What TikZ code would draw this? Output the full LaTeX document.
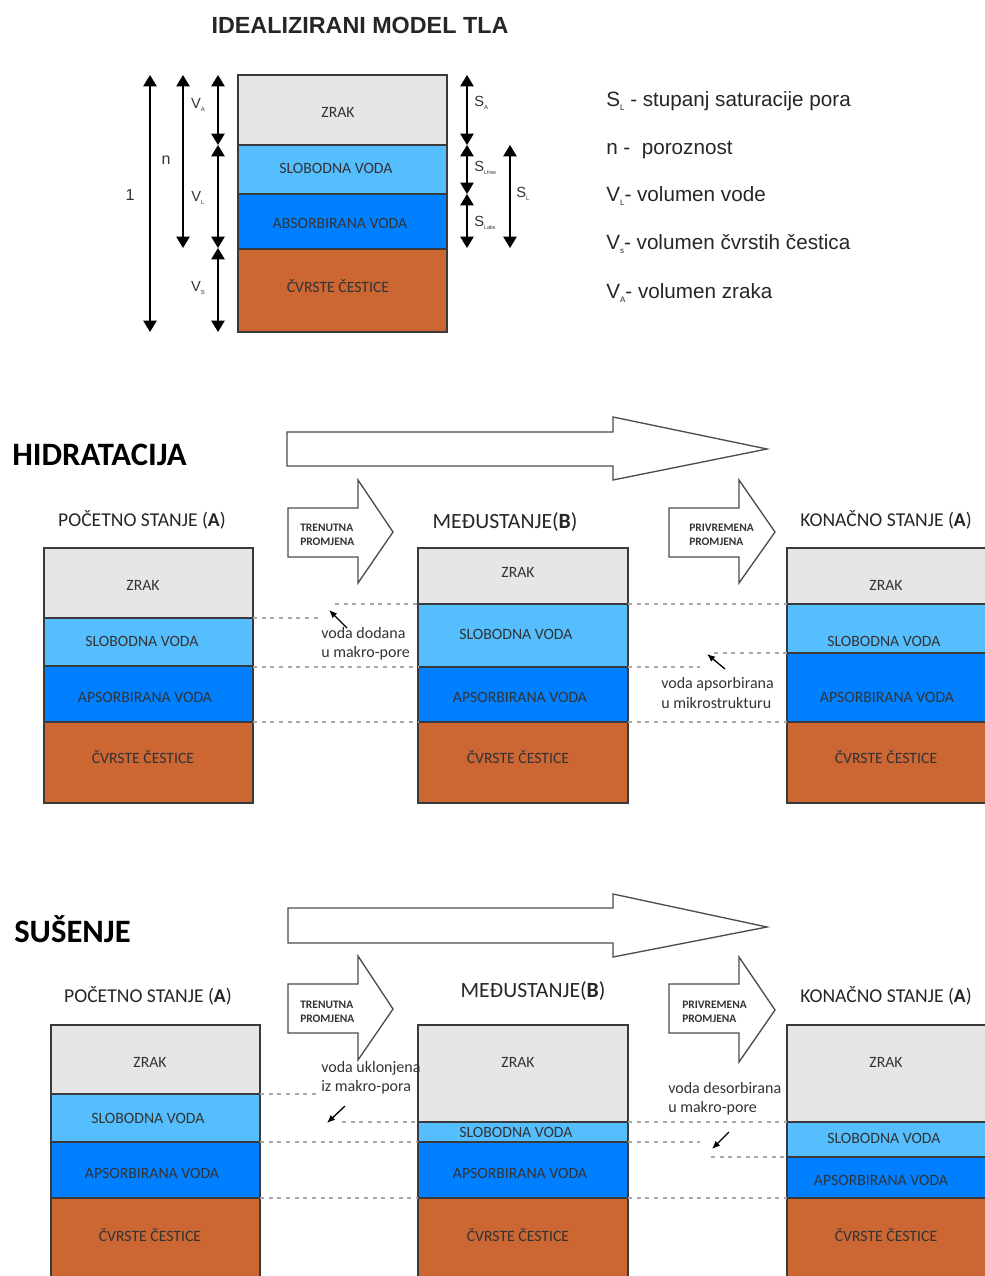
\documentclass[tikz,border=0pt]{standalone}
\usepackage{fontspec}
\setmainfont{Carlito}
\newfontfamily\arialf{Liberation Sans}
\usetikzlibrary{arrows.meta}
\definecolor{zrak}{HTML}{E6E6E6}
\definecolor{slob}{HTML}{55BEFF}
\definecolor{aps}{HTML}{0080FF}
\definecolor{cvr}{HTML}{CC6633}
\definecolor{edgec}{HTML}{3A3A3A}
\definecolor{dashc}{HTML}{A8A8A8}
\newcommand\soilbox[7]{%
  \draw[layer,fill=zrak] (#1,#3) rectangle (#2,#4);
  \draw[layer,fill=slob] (#1,#4) rectangle (#2,#5);
  \draw[layer,fill=aps] (#1,#5) rectangle (#2,#6);
  \draw[layer,fill=cvr] (#1,#6) rectangle (#2,#7);}
\newcommand\lsub[2]{\raisebox{-0.45ex}{\fontsize{#1}{#1}\selectfont #2}}
\tikzset{
  layer/.style={draw=edgec, line width=1.1pt},
  lbl/.style={font=\fontsize{11.8}{13}\selectfont, text=black!80, inner sep=0pt},
  guide/.style={draw=dashc, line width=0.9pt, dash pattern=on 3pt off 3.5pt},
  dimarrow/.style={line width=1pt, {Triangle[width=10pt,length=8.5pt]}-{Triangle[width=10pt,length=8.5pt]}},
  hollow/.style={draw=black!70, line width=1pt, fill=white, line join=miter},
  state/.style={font=\fontsize{14.7}{16}\selectfont, text=black!85, inner sep=0pt},
  midstate/.style={font=\fontsize{16.3}{18}\selectfont, text=black!85, inner sep=0pt},
  heading/.style={font=\bfseries\fontsize{24.5}{26}\selectfont, anchor=west, inner sep=0pt},
  tiny/.style={font=\bfseries\fontsize{8.6}{10.5}\selectfont, align=left, anchor=west, inner sep=0pt, text=black!80},
  note/.style={font=\fontsize{12}{14.5}\selectfont, align=left, anchor=west, inner sep=0pt, text=black!80},
  pointer/.style={line width=1pt, -{Latex[length=6pt,width=5pt]}},
  dimlbl/.style={font=\arialf\fontsize{11}{12}\selectfont, inner sep=0pt, text=black!80},
  legend/.style={font=\arialf\fontsize{15.5}{17}\selectfont, anchor=west, inner sep=0pt, text=black!85}
}
\begin{document}
\begin{tikzpicture}[x=0.75pt,y=-0.75pt]
\useasboundingbox (0,0) rectangle (984,1276);
% ================= top model =================
\node[font=\arialf\bfseries\fontsize{17.5}{20}\selectfont, text=black!85] (title) at (360,25) {IDEALIZIRANI MODEL TLA};
\soilbox{238}{447}{75}{145}{194}{249}{332}
\node[lbl] (m-z) at (338,112) {ZRAK};
\node[lbl] (m-s) at (336,168) {SLOBODNA VODA};
\node[lbl] (m-a) at (340,223) {ABSORBIRANA VODA};
\node[lbl] (m-c) at (338,286) {ČVRSTE ČESTICE};
% dimension coordinates
\coordinate (one-t) at (150,75);  \coordinate (one-b) at (150,332);
\coordinate (n-t) at (183,75);    \coordinate (n-b) at (183,248);
\coordinate (v0) at (218,75); \coordinate (v1) at (218,145); \coordinate (v2) at (218,248); \coordinate (v3) at (218,332);
\coordinate (s0) at (467,75); \coordinate (s1) at (467,145); \coordinate (s2) at (467,194); \coordinate (s3) at (467,248);
\coordinate (sl-t) at (510,145); \coordinate (sl-b) at (510,248);
\draw[dimarrow] (one-t) -- (one-b);
\draw[dimarrow] (n-t) -- (n-b);
\draw[dimarrow] (v0) -- (v1);
\draw[dimarrow] (v1) -- (v2);
\draw[dimarrow] (v2) -- (v3);
\draw[dimarrow] (s0) -- (s1);
\draw[dimarrow] (s1) -- (s2);
\draw[dimarrow] (s2) -- (s3);
\draw[dimarrow] (sl-t) -- (sl-b);
\node[dimlbl, font=\arialf\fontsize{12}{13}\selectfont] (l-one) at (130,195) {1};
\node[dimlbl, font=\arialf\fontsize{12}{13}\selectfont] (l-n) at (166,160) {n};
\node[dimlbl] (l-va) at (198,105) {V\lsub{4.5}{A}};
\node[dimlbl] (l-vl) at (198,198) {V\lsub{4.5}{L}};
\node[dimlbl] (l-vs) at (198,288) {V\lsub{4.5}{S}};
\node[dimlbl, anchor=west] (l-sa) at (474,103) {S\lsub{4.5}{A}};
\node[dimlbl, anchor=west] (l-sf) at (474,168) {S\lsub{4}{Lfree}};
\node[dimlbl, anchor=west] (l-sb) at (474,223) {S\lsub{4}{Labs}};
\node[dimlbl, anchor=west] (l-sl) at (516,194) {S\lsub{4.5}{L}};
% legend
\node[legend] (g1) at (606,101) {S\lsub{6}{L} - stupanj saturacije pora};
\node[legend] (g2) at (606,150) {n -\ \ poroznost};
\node[legend] (g3) at (606,196) {V\lsub{6}{L}- volumen vode};
\node[legend] (g4) at (606,244) {V\lsub{6}{s}- volumen čvrstih čestica};
\node[legend] (g5) at (606,293) {V\lsub{6}{A}- volumen zraka};
% ================= HIDRATACIJA =================
\node[heading] (h-head) at (12,455) {HIDRATACIJA};
\draw[hollow] (287,432) -- (613,432) -- (613,417) -- (767,449) -- (613,480) -- (613,466) -- (287,466) -- cycle;
\draw[hollow] (288,508) -- (358,508) -- (358,480) -- (393,532) -- (358,583) -- (358,557) -- (288,557) -- cycle;
\node[tiny] (h-t1) at (300,535) {TRENUTNA\\PROMJENA};
\draw[hollow] (669,508) -- (739,508) -- (739,480) -- (775,532) -- (739,583) -- (739,557) -- (669,557) -- cycle;
\node[tiny] (h-t2) at (689,535) {PRIVREMENA\\PROMJENA};
\node[state] (h-sa) at (142,520) {POČETNO STANJE (\textbf{A})};
\node[midstate] (h-sb) at (505,522) {MEĐUSTANJE(\textbf{B})};
\node[state] (h-sc) at (886,520) {KONAČNO STANJE (\textbf{A})};
% boxes
\soilbox{44}{253}{548}{618}{666}{722}{803}
\soilbox{418}{628}{548}{604}{667}{722}{803}
\soilbox{787}{996}{548}{604}{653}{722}{803}
\node[lbl] (ha-z) at (143,585) {ZRAK};
\node[lbl] (ha-s) at (142,641) {SLOBODNA VODA};
\node[lbl] (ha-a) at (145,697) {APSORBIRANA VODA};
\node[lbl] (ha-c) at (143,757) {ČVRSTE ČESTICE};
\node[lbl] (hb-z) at (518,572) {ZRAK};
\node[lbl] (hb-s) at (516,634) {SLOBODNA VODA};
\node[lbl] (hb-a) at (520,697) {APSORBIRANA VODA};
\node[lbl] (hb-c) at (518,757) {ČVRSTE ČESTICE};
\node[lbl] (hc-z) at (886,585) {ZRAK};
\node[lbl] (hc-s) at (884,641) {SLOBODNA VODA};
\node[lbl] (hc-a) at (887,697) {APSORBIRANA VODA};
\node[lbl] (hc-c) at (886,757) {ČVRSTE ČESTICE};
% guides
\coordinate (hg1a) at (253,618); \coordinate (hg1b) at (320,618);
\coordinate (hg2a) at (335,604); \coordinate (hg2b) at (418,604);
\coordinate (hg3a) at (253,667); \coordinate (hg3b) at (418,667);
\coordinate (hg4a) at (253,722); \coordinate (hg4b) at (418,722);
\coordinate (hg5a) at (628,604); \coordinate (hg5b) at (787,604);
\coordinate (hg6a) at (628,667); \coordinate (hg6b) at (700,667);
\coordinate (hg7a) at (714,653); \coordinate (hg7b) at (787,653);
\coordinate (hg8a) at (628,722); \coordinate (hg8b) at (787,722);
\foreach \i in {1,...,8} {\draw[guide] (hg\i a) -- (hg\i b);}
\coordinate (hp1a) at (347,628); \coordinate (hp1b) at (329,610);
\coordinate (hp2a) at (725,669); \coordinate (hp2b) at (707,654);
\draw[pointer] (hp1a) -- (hp1b);
\draw[pointer] (hp2a) -- (hp2b);
\node[note] (h-n1) at (321,644) {voda dodana\\u makro-pore};
\node[note] (h-n2) at (661,693) {voda apsorbirana\\u mikrostrukturu};
% ================= SUSENJE =================
\node[heading] (d-head) at (14,929) {SUŠENJE};
\draw[hollow] (288,908) -- (613,908) -- (613,894) -- (767,927) -- (613,957) -- (613,943) -- (288,943) -- cycle;
\draw[hollow] (288,984) -- (358,984) -- (358,956) -- (393,1009) -- (358,1060) -- (358,1033) -- (288,1033) -- cycle;
\node[tiny] (d-t1) at (300,1012) {TRENUTNA\\PROMJENA};
\draw[hollow] (669,984) -- (739,984) -- (739,957) -- (775,1010) -- (739,1062) -- (739,1033) -- (669,1033) -- cycle;
\node[tiny] (d-t2) at (682,1012) {PRIVREMENA\\PROMJENA};
\node[state] (d-sa) at (148,996) {POČETNO STANJE (\textbf{A})};
\node[midstate] (d-sb) at (533,991) {MEĐUSTANJE(\textbf{B})};
\node[state] (d-sc) at (886,996) {KONAČNO STANJE (\textbf{A})};
\soilbox{51}{260}{1025}{1094}{1142}{1198}{1290}
\soilbox{418}{628}{1025}{1122}{1142}{1198}{1290}
\soilbox{787}{996}{1025}{1122}{1157}{1198}{1290}
\node[lbl] (da-z) at (150,1062) {ZRAK};
\node[lbl] (da-s) at (148,1118) {SLOBODNA VODA};
\node[lbl] (da-a) at (152,1173) {APSORBIRANA VODA};
\node[lbl] (da-c) at (150,1235) {ČVRSTE ČESTICE};
\node[lbl] (db-z) at (518,1062) {ZRAK};
\node[lbl] (db-s) at (516,1132) {SLOBODNA VODA};
\node[lbl] (db-a) at (520,1173) {APSORBIRANA VODA};
\node[lbl] (db-c) at (518,1235) {ČVRSTE ČESTICE};
\node[lbl] (dc-z) at (886,1062) {ZRAK};
\node[lbl] (dc-s) at (884,1138) {SLOBODNA VODA};
\node[lbl] (dc-a) at (881,1180) {APSORBIRANA VODA};
\node[lbl] (dc-c) at (886,1235) {ČVRSTE ČESTICE};
\coordinate (dg1a) at (260,1094); \coordinate (dg1b) at (318,1094);
\coordinate (dg2a) at (342,1122); \coordinate (dg2b) at (418,1122);
\coordinate (dg3a) at (260,1142); \coordinate (dg3b) at (418,1142);
\coordinate (dg4a) at (260,1198); \coordinate (dg4b) at (418,1198);
\coordinate (dg5a) at (628,1122); \coordinate (dg5b) at (787,1122);
\coordinate (dg6a) at (628,1142); \coordinate (dg6b) at (700,1142);
\coordinate (dg7a) at (711,1157); \coordinate (dg7b) at (787,1157);
\coordinate (dg8a) at (628,1198); \coordinate (dg8b) at (787,1198);
\foreach \i in {1,...,8} {\draw[guide] (dg\i a) -- (dg\i b);}
\coordinate (dp1a) at (345,1106); \coordinate (dp1b) at (327,1123);
\coordinate (dp2a) at (729,1132); \coordinate (dp2b) at (712,1149);
\draw[pointer] (dp1a) -- (dp1b);
\draw[pointer] (dp2a) -- (dp2b);
\node[note] (d-n1) at (321,1078) {voda uklonjena\\iz makro-pora};
\node[note] (d-n2) at (668,1099) {voda desorbirana\\u makro-pore};
\end{tikzpicture}
\end{document}
